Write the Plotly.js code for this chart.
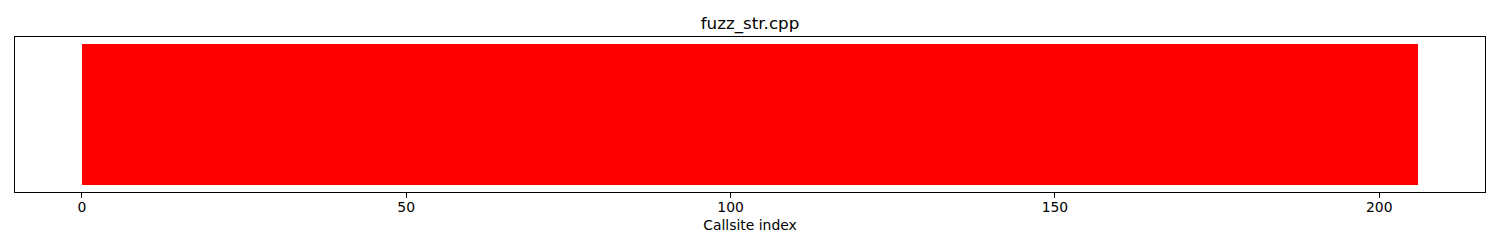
<!DOCTYPE html>
<html>
<head>
<meta charset="utf-8">
<script src="https://cdn.plot.ly/plotly-3.0.1.min.js"></script>
<style>
  html, body { margin: 0; padding: 0; background: #fff; }
  #chart { width: 1500px; height: 250px; }
</style>
</head>
<body>
<div id="chart"></div>
<script>
// Callsite indices of fuzz_str.cpp
const callsiteIndex = [
  0, 1, 2, 3, 4, 5, 6, 7, 8, 9, 10, 11, 12, 13, 14, 15, 16, 17, 18, 19,
  20, 21, 22, 23, 24, 25, 26, 27, 28, 29, 30, 31, 32, 33, 34, 35, 36, 37, 38, 39,
  40, 41, 42, 43, 44, 45, 46, 47, 48, 49, 50, 51, 52, 53, 54, 55, 56, 57, 58, 59,
  60, 61, 62, 63, 64, 65, 66, 67, 68, 69, 70, 71, 72, 73, 74, 75, 76, 77, 78, 79,
  80, 81, 82, 83, 84, 85, 86, 87, 88, 89, 90, 91, 92, 93, 94, 95, 96, 97, 98, 99,
  100, 101, 102, 103, 104, 105, 106, 107, 108, 109, 110, 111, 112, 113, 114, 115, 116, 117, 118, 119,
  120, 121, 122, 123, 124, 125, 126, 127, 128, 129, 130, 131, 132, 133, 134, 135, 136, 137, 138, 139,
  140, 141, 142, 143, 144, 145, 146, 147, 148, 149, 150, 151, 152, 153, 154, 155, 156, 157, 158, 159,
  160, 161, 162, 163, 164, 165, 166, 167, 168, 169, 170, 171, 172, 173, 174, 175, 176, 177, 178, 179,
  180, 181, 182, 183, 184, 185, 186, 187, 188, 189, 190, 191, 192, 193, 194, 195, 196, 197, 198, 199,
  200, 201, 202, 203, 204, 205
];

// One full-height bar per callsite
const callsiteHeight = [
  1, 1, 1, 1, 1, 1, 1, 1, 1, 1, 1, 1, 1, 1, 1, 1, 1, 1, 1, 1,
  1, 1, 1, 1, 1, 1, 1, 1, 1, 1, 1, 1, 1, 1, 1, 1, 1, 1, 1, 1,
  1, 1, 1, 1, 1, 1, 1, 1, 1, 1, 1, 1, 1, 1, 1, 1, 1, 1, 1, 1,
  1, 1, 1, 1, 1, 1, 1, 1, 1, 1, 1, 1, 1, 1, 1, 1, 1, 1, 1, 1,
  1, 1, 1, 1, 1, 1, 1, 1, 1, 1, 1, 1, 1, 1, 1, 1, 1, 1, 1, 1,
  1, 1, 1, 1, 1, 1, 1, 1, 1, 1, 1, 1, 1, 1, 1, 1, 1, 1, 1, 1,
  1, 1, 1, 1, 1, 1, 1, 1, 1, 1, 1, 1, 1, 1, 1, 1, 1, 1, 1, 1,
  1, 1, 1, 1, 1, 1, 1, 1, 1, 1, 1, 1, 1, 1, 1, 1, 1, 1, 1, 1,
  1, 1, 1, 1, 1, 1, 1, 1, 1, 1, 1, 1, 1, 1, 1, 1, 1, 1, 1, 1,
  1, 1, 1, 1, 1, 1, 1, 1, 1, 1, 1, 1, 1, 1, 1, 1, 1, 1, 1, 1,
  1, 1, 1, 1, 1, 1
];

const callsiteColor = callsiteIndex.map(() => 'red');

const xTicks = [0, 50, 100, 150, 200];

const font = 'DejaVu Sans, sans-serif';

const trace = {
  type: 'bar',
  x: callsiteIndex,
  y: callsiteHeight,
  width: 1,
  offset: 0,
  marker: { color: callsiteColor, line: { width: 0 } },
  hoverinfo: 'x'
};

// Pad the axes by 5% of the data span on each side
const xMax = callsiteIndex[callsiteIndex.length - 1] + 1;
const xPad = xMax * 0.05;
const yMax = Math.max(...callsiteHeight);
const yPad = yMax * 0.05;

const layout = {
  width: 1500,
  height: 250,
  margin: { l: 15, r: 15, t: 37, b: 58, pad: 0 },
  paper_bgcolor: '#fff',
  plot_bgcolor: '#fff',
  showlegend: false,
  bargap: 0,
  font: { family: font, size: 13.9, color: '#000' },
  title: {
    text: 'fuzz_str.cpp',
    font: { family: font, size: 16.7, color: '#000' },
    x: 0.5, xanchor: 'center',
    yref: 'container', y: 1 - 23 / 250, yanchor: 'middle'
  },
  xaxis: {
    range: [-xPad, xMax + xPad],
    tickvals: xTicks,
    ticktext: xTicks.map(String),
    ticks: 'outside', ticklen: 4.9, tickwidth: 1.1, tickcolor: '#000',
    ticklabelstandoff: -3,
    showline: true, mirror: true, linecolor: '#000', linewidth: 1.1,
    showgrid: false, zeroline: false,
    tickfont: { family: font, size: 13.9, color: '#000' },
    title: { text: 'Callsite index', font: { family: font, size: 13.9, color: '#000' }, standoff: 6 }
  },
  yaxis: {
    range: [-yPad, yMax + yPad],
    showticklabels: false, ticks: '',
    showline: true, mirror: true, linecolor: '#000', linewidth: 1.1,
    showgrid: false, zeroline: false
  }
};

Plotly.newPlot('chart', [trace], layout, { displayModeBar: false, staticPlot: true });
</script>
</body>
</html>
